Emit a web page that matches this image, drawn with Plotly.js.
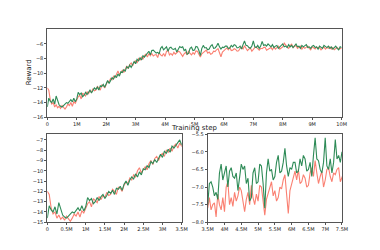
<!DOCTYPE html>
<html>
<head>
<meta charset="utf-8">
<script src="https://cdn.plot.ly/plotly-3.0.1.min.js"></script>
<style>html,body{margin:0;padding:0;background:#fff;}#chart{width:380px;height:250px;}</style>
</head>
<body>
<div id="chart"></div>
<script>
// Training step grid: one reading every 50k steps, 0 .. 10M
const stepSize = 50000;
const nPoints = 201;

// Red (salmon) run, reward per reading
const rewardRed = [
 -12.0,-12.3,-13.6,-14.2,-14.0,-14.6,-14.3,-14.7,-14.5,-14.8,-14.4,
 -14.7,-14.9,-14.6,-14.2,-14.4,-14.0,-14.5,-13.9,-14.1,-13.6,
 -13.2,-13.0,-13.5,-12.7,-12.9,-13.1,-12.5,-12.8,-12.4,-12.6,
 -12.1,-12.4,-12.3,-11.8,-12.0,-12.3,-11.6,-11.7,-12.0,-11.4,
 -11.1,-11.2,-10.7,-10.9,-10.4,-10.6,-10.0,-9.7,-10.2,-9.9,
 -9.6,-9.9,-9.3,-9.0,-9.4,-8.8,-8.6,-9.0,-8.5,-8.3,
 -8.6,-8.0,-8.2,-7.8,-8.1,-7.6,-7.4,-7.8,-7.3,-7.6,
 -7.3,-7.65,-7.5,-7.45,-7.85,-7.2,-7.5,-7.65,-7.3,-7.7,
 -7.0,-6.85,-7.5,-7.3,-7.55,-7.15,-7.4,-7.25,-7.0,-7.1,
 -7.4,-7.7,-7.35,-7.15,-7.5,-6.95,-7.3,-7.5,-7.2,-7.4,
 -6.95,-7.0,-7.4,-7.8,-7.35,-7.2,-7.0,-6.85,-7.25,-7.1,
 -7.4,-7.3,-7.0,-7.05,-6.8,-6.65,-7.2,-7.75,-7.1,-6.9,
 -6.7,-6.55,-6.8,-6.5,-6.9,-6.85,-6.65,-6.75,-7.0,-6.95,
 -6.6,-6.45,-6.7,-6.25,-6.6,-6.9,-6.7,-6.55,-7.0,-6.8,
 -6.5,-6.45,-6.7,-6.85,-6.6,-6.65,-6.5,-6.45,-6.85,-6.7,
 -6.6,-6.5,-6.8,-6.4,-6.7,-6.5,-6.3,-6.7,-6.6,-6.4,
 -5.9,-6.2,-6.4,-6.6,-6.3,-6.0,-6.5,-6.4,-6.2,-6.6,
 -6.5,-6.3,-6.7,-6.4,-6.6,-6.5,-6.3,-6.6,-6.8,-6.4,
 -6.5,-6.7,-6.4,-6.6,-6.5,-6.8,-6.6,-6.4,-6.7,-6.5,
 -6.6,-6.4,-6.7,-6.5,-6.8,-6.6,-6.5,-6.7,-6.6,-6.6
];

// Green run, reward per reading
const rewardGreen = [
 -14.6,-13.4,-13.8,-14.0,-13.5,-14.2,-13.1,-13.6,-14.3,-14.5,-14.6,
 -14.4,-14.2,-14.0,-14.1,-13.8,-13.6,-13.9,-13.4,-13.9,-13.5,
 -12.6,-12.9,-12.7,-13.2,-13.0,-12.6,-12.9,-12.5,-12.3,-12.7,
 -12.4,-12.0,-12.2,-11.9,-12.3,-11.7,-11.8,-11.5,-11.9,-11.3,
 -11.0,-11.4,-10.9,-10.6,-10.8,-10.3,-10.6,-10.1,-10.4,-9.8,
 -9.9,-9.5,-9.7,-9.1,-9.3,-8.9,-9.2,-8.7,-8.4,-8.7,
 -8.1,-8.3,-7.9,-8.2,-7.6,-7.8,-7.5,-7.2,-7.0,-7.5,
 -6.9,-6.85,-7.0,-7.25,-7.15,-7.35,-6.6,-6.35,-6.8,-6.6,
 -6.4,-7.0,-6.55,-6.45,-6.7,-6.75,-6.6,-7.1,-6.7,-6.35,
 -6.5,-6.4,-6.9,-6.75,-7.4,-7.3,-6.6,-6.45,-6.9,-6.85,
 -6.35,-6.4,-6.9,-7.6,-6.6,-6.2,-6.55,-6.5,-6.8,-6.7,
 -6.3,-6.1,-6.6,-6.55,-6.3,-5.9,-6.4,-6.7,-6.45,-6.5,
 -6.3,-6.3,-6.6,-6.55,-6.2,-6.4,-6.1,-6.2,-6.55,-6.5,
 -6.3,-6.7,-6.1,-5.6,-6.2,-6.25,-6.5,-6.6,-6.3,-5.6,
 -6.4,-6.5,-6.2,-6.6,-6.3,-5.65,-6.2,-6.1,-6.3,-6.0,
 -6.2,-6.4,-6.1,-6.5,-6.3,-6.2,-6.6,-6.4,-6.3,-6.0,
 -6.4,-6.3,-6.5,-6.1,-6.4,-6.2,-6.5,-6.3,-6.0,-6.4,
 -6.3,-6.6,-6.2,-6.4,-6.3,-6.1,-6.5,-6.4,-6.6,-6.3,
 -6.2,-6.5,-6.4,-6.7,-6.3,-6.5,-6.6,-6.2,-6.4,-6.5,
 -6.3,-6.6,-6.4,-6.7,-6.5,-6.3,-6.6,-6.8,-6.4,-6.5
];

// Tick labels
const topTickVals = [0,1e6,2e6,3e6,4e6,5e6,6e6,7e6,8e6,9e6,10e6];
const topTickText = ["0","1M","2M","3M","4M","5M","6M","7M","8M","9M","10M"];
const topYTicks = [-16,-14,-12,-10,-8,-6];
const blTickVals = [0,0.5e6,1e6,1.5e6,2e6,2.5e6,3e6,3.5e6];
const blTickText = ["0","0.5M","1M","1.5M","2M","2.5M","3M","3.5M"];
const blYTicks = [-15,-14,-13,-12,-11,-10,-9,-8,-7];
const brTickVals = [3.5e6,4e6,4.5e6,5e6,5.5e6,6e6,6.5e6,7e6,7.5e6];
const brTickText = ["3.5M","4M","4.5M","5M","5.5M","6M","6.5M","7M","7.5M"];
const brYTicks = [-8,-7.5,-7,-6.5,-6,-5.5];

const steps = [];
for (let i = 0; i < nPoints; i++) steps.push(i * stepSize);

const RED = '#fa8072', GREEN = '#2e8b57';
function tr(y, color, xa, ya) {
  return {x: steps, y: y, type: 'scatter', mode: 'lines', xaxis: xa, yaxis: ya,
    line: {color: color, width: 1.1}, hoverinfo: 'skip', showlegend: false};
}
const traces = [
  tr(rewardRed, RED, 'x', 'y'), tr(rewardGreen, GREEN, 'x', 'y'),
  tr(rewardRed, RED, 'x2', 'y2'), tr(rewardGreen, GREEN, 'x2', 'y2'),
  tr(rewardRed, RED, 'x3', 'y3'), tr(rewardGreen, GREEN, 'x3', 'y3')
];

const axBase = {showline: true, mirror: true, linecolor: '#555', linewidth: 1,
  showgrid: false, zeroline: false, ticks: 'outside', ticklen: 2, tickwidth: 1,
  tickcolor: '#555', tickfont: {size: 5, color: '#222', family: 'DejaVu Sans'}};

const layout = {
  width: 380, height: 250, margin: {l: 0, r: 0, t: 0, b: 0},
  paper_bgcolor: '#fff', plot_bgcolor: '#fff',
  font: {family: 'DejaVu Sans', color: '#222'},
  xaxis: Object.assign({}, axBase, {domain: [0.1245, 0.899], range: [0, 10e6],
    tickmode: 'array', tickvals: topTickVals, ticktext: topTickText, anchor: 'y'}),
  yaxis: Object.assign({}, axBase, {domain: [0.531, 0.883], range: [-16, -4],
    tickmode: 'array', tickvals: topYTicks, anchor: 'x'}),
  xaxis2: Object.assign({}, axBase, {domain: [0.1245, 0.478], range: [0, 3.5e6],
    tickmode: 'array', tickvals: blTickVals, ticktext: blTickText, anchor: 'y2'}),
  yaxis2: Object.assign({}, axBase, {domain: [0.111, 0.463], range: [-15, -6.45],
    tickmode: 'array', tickvals: blYTicks, anchor: 'x2'}),
  xaxis3: Object.assign({}, axBase, {domain: [0.5466, 0.9], range: [3.5e6, 7.5e6],
    tickmode: 'array', tickvals: brTickVals, ticktext: brTickText, anchor: 'y3'}),
  yaxis3: Object.assign({}, axBase, {domain: [0.111, 0.463], range: [-8, -5.5],
    tickmode: 'array', tickvals: brYTicks, tickformat: '.1f', anchor: 'x3'}),
  annotations: [
    {text: 'Training step', xref: 'paper', yref: 'paper', x: 0.511, y: 0.487,
     showarrow: false, font: {size: 7, color: '#222'}, xanchor: 'center', yanchor: 'middle'},
    {text: 'Reward', xref: 'paper', yref: 'paper', x: 0.077, y: 0.712, textangle: -90,
     showarrow: false, font: {size: 7, color: '#222'}, xanchor: 'center', yanchor: 'middle'}
  ]
};

Plotly.newPlot('chart', traces, layout, {staticPlot: true, displayModeBar: false});
</script>
</body>
</html>
